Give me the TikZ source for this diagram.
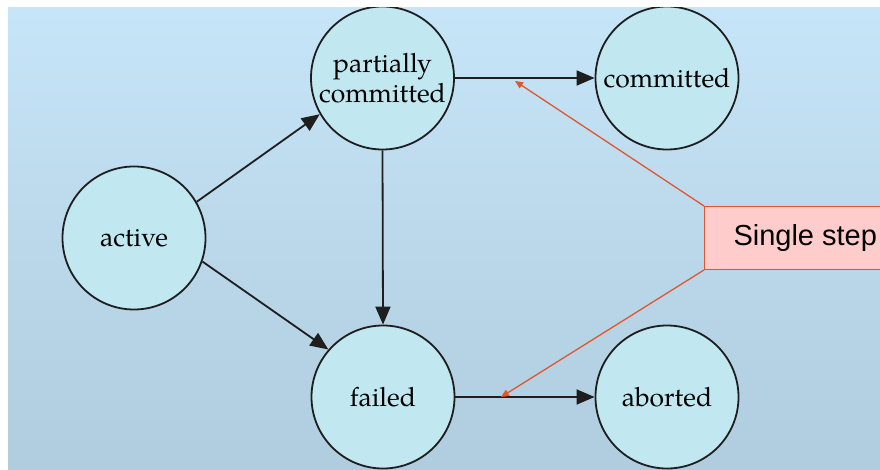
\documentclass[tikz,border=0pt]{standalone}
\usepackage{fontspec}
\setmainfont{texgyrepagella}[Extension=.otf,UprightFont=*-regular,BoldFont=*-bold,ItalicFont=*-italic,BoldItalicFont=*-bolditalic]
\newfontfamily\calloutfont{Liberation Sans}
\usetikzlibrary{arrows.meta}

\definecolor{bgtop}{HTML}{C7E5F8}
\definecolor{bgbot}{HTML}{B0CCDF}
\definecolor{statefill}{HTML}{C1E7F1}
\definecolor{statedraw}{HTML}{1E1E1E}
\definecolor{noteline}{HTML}{E0562E}
\definecolor{notefill}{HTML}{FFCCCC}

\tikzset{
  state/.style={circle, draw=statedraw, line width=1.8pt, fill=statefill,
    minimum size=143pt, inner sep=0pt, align=center,
    font=\fontsize{26.5}{30}\selectfont},
  flow/.style={draw=statedraw, line width=1.8pt,
    -{Triangle[length=18pt,width=15pt]}},
  note/.style={draw=noteline, line width=1pt, fill=notefill,
    minimum height=63pt, inner xsep=29pt, inner ysep=0pt,
    font=\calloutfont\fontsize{29}{33}\selectfont},
  pointer/.style={draw=noteline, line width=1.3pt,
    -{Triangle[length=8pt,width=7pt]}}
}

\begin{document}
\begin{tikzpicture}[x=1pt,y=-1pt]
  \useasboundingbox (0,0) rectangle (880,470);
  \fill[white] (0,0) rectangle (880,470);
  \begin{scope}
    \clip (8,8) rectangle (880,470);
    \shade[top color=bgtop, bottom color=bgbot] (8,8) rectangle (880,470);

    % transaction states
    \node[state] (active)    at (134,238)   {active};
    \node[state] (partial)   at (382.5,78)  {partially\\committed};
    \node[state] (committed) at (667,78)    {committed};
    \node[state] (failed)    at (383,397)   {failed};
    \node[state] (aborted)   at (667,397)   {aborted};

    % transitions
    \draw[flow] (active.30)   -- (partial.210);
    \draw[flow] (active.-19)  -- (failed.139);
    \draw[flow] (partial.south) -- (failed.north);
    \draw[flow] (partial.east)  -- (committed.west);
    \draw[flow] (failed.east)   -- (aborted.west);

    % callout
    \node[note, anchor=north west] (note) at (704,206) {Single step};
    \coordinate (tipA) at (515,81);
    \coordinate (tipB) at (501,397);
    \draw[pointer] (note.north west) -- (tipA);
    \draw[pointer] (note.south west) -- (tipB);
  \end{scope}
\end{tikzpicture}
\end{document}
